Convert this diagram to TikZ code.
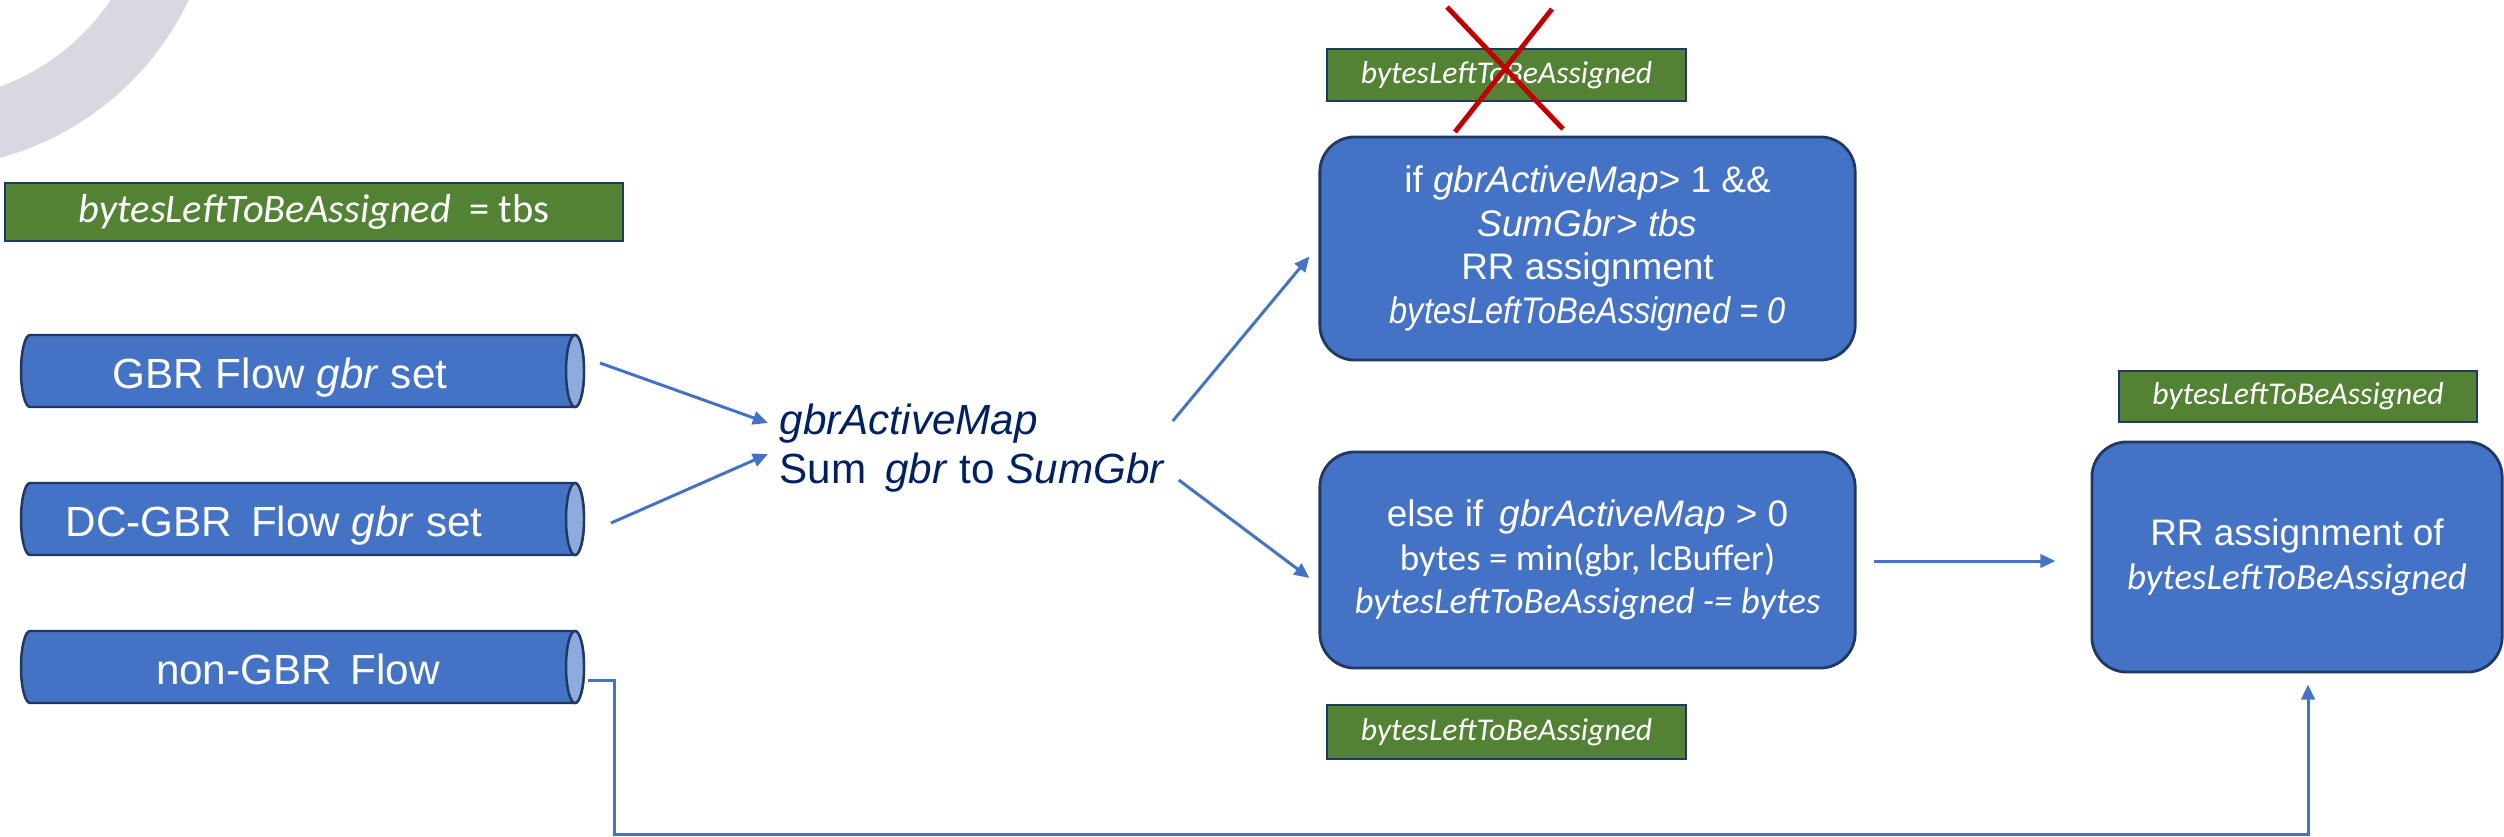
\documentclass[tikz,border=0pt]{standalone}
\usepackage{fontspec}
\setmainfont{Liberation Sans}
\newfontfamily\calib{Carlito}
\newfontfamily\narrowsans[FakeStretch=0.88]{Liberation Sans}
\usetikzlibrary{arrows.meta,calc}
\definecolor{boxblue}{HTML}{4472C4}
\definecolor{capblue}{HTML}{8FAADC}
\definecolor{edgenavy}{HTML}{1F3864}
\definecolor{lblgreen}{HTML}{548235}
\definecolor{textnavy}{HTML}{002060}
\definecolor{xred}{HTML}{C00000}
\definecolor{arcgray}{HTML}{D8D8E0}
\newcommand\flowpipe[4]{%
  \draw[pipebody] (30,#2-36) -- (575,#2-36) arc[start angle=-90,end angle=90,x radius=9,y radius=36] -- (30,#2+36) arc[start angle=90,end angle=270,x radius=9,y radius=36] -- cycle;
  \draw[pipecap] (575,#2) ellipse[x radius=9,y radius=36];
  \coordinate (#1end) at (584,#2);
  \node[pipetext] (#1) at (#3,#2+17) {#4};
}
\begin{document}
\begin{tikzpicture}[x=0.01cm,y=-0.01cm,
  pipebody/.style={fill=boxblue, draw=edgenavy, line width=0.7pt, line join=round},
  pipecap/.style={fill=capblue, draw=edgenavy, line width=0.7pt},
  pipetext/.style={anchor=base, text=white, inner sep=0, font=\fontsize{12}{14}\selectfont},
  procbox/.style={rectangle, rounded corners=0.35cm, fill=boxblue, draw=edgenavy, line width=0.8pt, text=white, align=center, inner sep=0, font=\fontsize{10.5}{12.4}\selectfont},
  greenlbl/.style={rectangle, fill=lblgreen, draw=edgenavy, line width=0.6pt, text=white, inner sep=0},
  conn/.style={draw=boxblue, line width=0.85pt, -{Triangle[length=4.3pt,width=3.8pt]}},
  crossline/.style={draw=xred, line width=1.4pt}
]
\useasboundingbox (0,0) rectangle (2504,836);
\begin{scope}
  \clip (0,0) rectangle (2504,836);
  \draw[arcgray, line width=0.68cm] (-77,-126) circle[radius=260];
\end{scope}

% initial label
\node[greenlbl, minimum width=6.18cm, minimum height=0.58cm, font=\calib\fontsize{11.5}{13}\selectfont] (g0) at (314,212) {\itshape bytesLeftToBeAssigned\upshape\ \ = tbs};

% flows
\flowpipe{gbr}{371}{280}{GBR Flow \textit{gbr} set}
\flowpipe{dcgbr}{519}{274}{DC-GBR\hspace{0.45em}Flow \textit{gbr} set}
\flowpipe{nongbr}{667}{298}{non-GBR\hspace{0.45em}Flow}

% central text
\node[anchor=west, inner sep=0, align=left, text=textnavy, font=\fontsize{12}{13.9}\selectfont] (sum) at (779,448) {\textit{gbrActiveMap}\\Sum\hspace{0.45em}\textit{gbr} to \textit{SumGbr}};

% decision boxes
\node[procbox, minimum width=5.35cm, minimum height=2.23cm] (ifbox) at (1587.5,248.5) {if \textit{gbrActiveMap}> 1 \&\&\\\textit{SumGbr}> \textit{tbs}\\RR assignment\\{\narrowsans\itshape bytesLeftToBeAssigned = 0}};
\node[procbox, minimum width=5.35cm, minimum height=2.16cm] (elsebox) at (1587.5,560) {else if\hspace{0.45em}\textit{gbrActiveMap} > 0\\{\calib bytes = min(gbr, lcBuffer)}\\{\calib\itshape bytesLeftToBeAssigned -= bytes}};
\node[procbox, minimum width=4.10cm, minimum height=2.30cm] (rrbox) at (2297,557) {RR assignment of\\{\calib\itshape bytesLeftToBeAssigned}};

% green labels
\node[greenlbl, minimum width=3.59cm, minimum height=0.52cm, font=\calib\itshape\fontsize{9}{11}\selectfont] (g1) at (1506.5,75) {bytesLeftToBeAssigned};
\node[greenlbl, minimum width=3.59cm, minimum height=0.54cm, font=\calib\itshape\fontsize{9}{11}\selectfont] (g2) at (1506.5,732) {bytesLeftToBeAssigned};
\node[greenlbl, minimum width=3.58cm, minimum height=0.51cm, font=\calib\itshape\fontsize{9}{11}\selectfont] (g3) at (2298,396.5) {bytesLeftToBeAssigned};

% red cross over the top label
\draw[crossline] (1447,7) -- (1563,129);
\draw[crossline] (1552,9) -- (1455,132);

% connectors
\draw[conn] ($(gbrend)+(16,-8)$) -- ($(sum.west)+(-11,-25)$);
\draw[conn] ($(dcgbrend)+(27,4)$) -- ($(sum.west)+(-11,6)$);
\draw[conn] ($(sum.east)+(7,-27)$) -- ($(ifbox.west)+(-9,8)$);
\draw[conn] ($(sum.east)+(13,32)$) -- ($(elsebox.west)+(-9,18)$);
\draw[conn] ($(elsebox.east)+(17,1)$) -- ($(rrbox.west)+(-35,4)$);
\coordinate (cornerL) at (614,834);
\coordinate (cornerR) at (2308,834);
\draw[conn] ($(nongbrend)+(4,13)$) -| (cornerL) -- (cornerR) -- ($(rrbox.south)+(11,11)$);
\end{tikzpicture}
\end{document}
